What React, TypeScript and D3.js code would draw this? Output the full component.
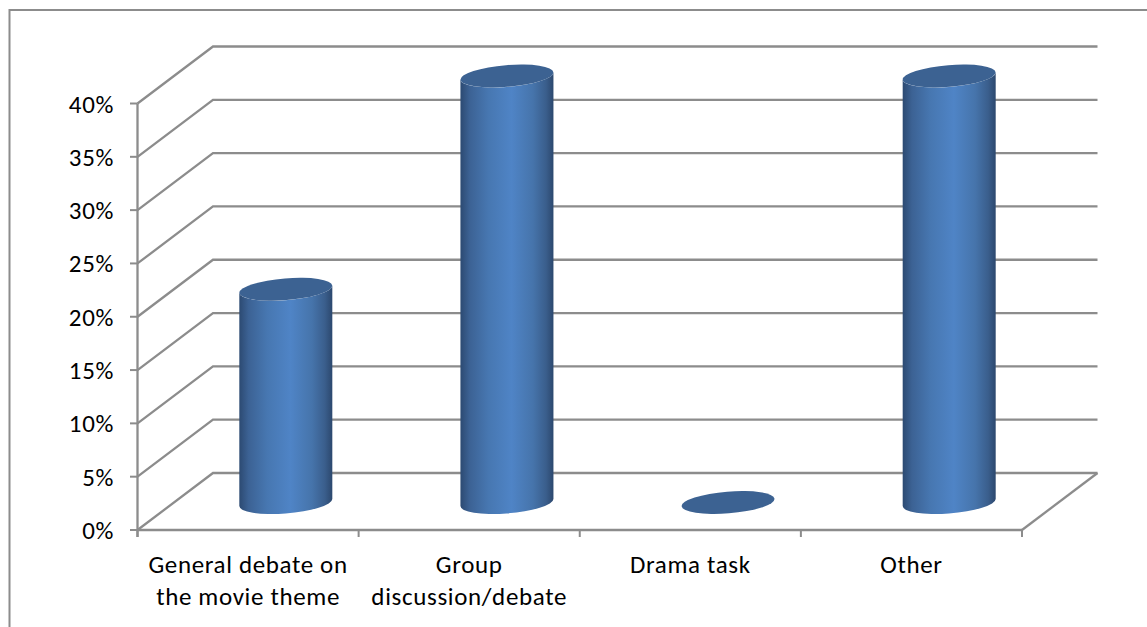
import React from "react";
import * as d3 from "d3";

const categories = ["General debate on|the movie theme", "Group|discussion/debate", "Drama task", "Other"];
const seriesValues = [20, 40, 0, 40];
const yTicks = [0, 5, 10, 15, 20, 25, 30, 35, 40];

const W = 1147, H = 627;
const GRID = "#8c8c8c";
const FONT = "Carlito, Calibri, Lato, sans-serif";
const TEXT = { fontFamily: FONT, fontSize: 25, letterSpacing: 0.65, fill: "#000" };

export default function App() {
  const x = d3.scaleBand<number>().domain(d3.range(categories.length)).range([137.5, 1022]);
  const y = d3.scaleLinear().domain([0, 40]).range([530, 103.5]);
  const dx = 75.5, dy = -57;
  const barY = d3.scaleLinear().domain([0, 40]).range([502.5, 76]);
  const hw = 46.5, a = 46.6, b = 10.9, rot = -4.6, tilt = 3.5;
  return (
    <svg width={W} height={H} style={{ position: "absolute", left: 0, top: 0, background: "#fff" }}>
      <defs>
        <linearGradient id="cyl" x1="0" x2="1" y1="0" y2="0">
          <stop offset="0" stopColor="#2c4a72" />
          <stop offset="0.1" stopColor="#3c6294" />
          <stop offset="0.3" stopColor="#4777b1" />
          <stop offset="0.55" stopColor="#4f84c6" />
          <stop offset="0.78" stopColor="#4674ab" />
          <stop offset="0.92" stopColor="#3a5e8c" />
          <stop offset="1" stopColor="#2c486e" />
        </linearGradient>
      </defs>
      <path d="M9.5 627V10H1147" fill="none" stroke="#8c8c8c" strokeWidth={2} />
      {yTicks.map((t) => (
        <g key={t}>
          <path
            d={`M137.5 ${y(t)}L${137.5 + dx} ${y(t) + dy}H${1022 + dx}`}
            fill="none"
            stroke={GRID}
            strokeWidth={2.3}
          />
          <line x1={130} x2={137.5} y1={y(t)} y2={y(t)} stroke={GRID} strokeWidth={2} />
          <text x={114} y={y(t) + 9} textAnchor="end" {...TEXT}>
            {t}%
          </text>
        </g>
      ))}
      <line x1={137.5} x2={137.5} y1={y(40)} y2={y(0) + 7} stroke={GRID} strokeWidth={2.3} />
      <line x1={137.5} x2={1022} y1={y(0)} y2={y(0)} stroke={GRID} strokeWidth={2.6} />
      <line x1={1022} x2={1022 + dx} y1={y(0)} y2={y(0) + dy} stroke={GRID} strokeWidth={2.3} />
      {d3.range(categories.length + 1).map((i) => {
        const px = 137.5 + i * x.bandwidth();
        return <line key={i} x1={px} x2={px} y1={y(0)} y2={y(0) + 7} stroke={GRID} strokeWidth={2} />;
      })}
      {seriesValues.map((v, i) => {
        const cx = x(i)! + x.bandwidth() / 2 + dx / 2;
        const top = barY(v), bot = barY(0);
        return (
          <g key={i}>
            {v > 0 && (
              <path
                d={`M${cx - hw} ${top + tilt}L${cx - hw} ${bot + tilt}A${a} ${b} ${rot} 0 0 ${cx + hw} ${bot - tilt}L${cx + hw} ${top - tilt}A${a} ${b} ${rot} 0 1 ${cx - hw} ${top + tilt}Z`}
                fill="url(#cyl)"
              />
            )}
            <ellipse cx={cx} cy={top} rx={a} ry={b} transform={`rotate(${rot} ${cx} ${top})`} fill="#3c6292" />
          </g>
        );
      })}
      {categories.map((c, i) => {
        const cx = x(i)! + x.bandwidth() / 2;
        return (
          <text key={c} textAnchor="middle" {...TEXT}>
            {c.split("|").map((l, j) => (
              <tspan key={j} x={cx} y={572.5 + j * 32}>
                {l}
              </tspan>
            ))}
          </text>
        );
      })}
    </svg>
  );
}
